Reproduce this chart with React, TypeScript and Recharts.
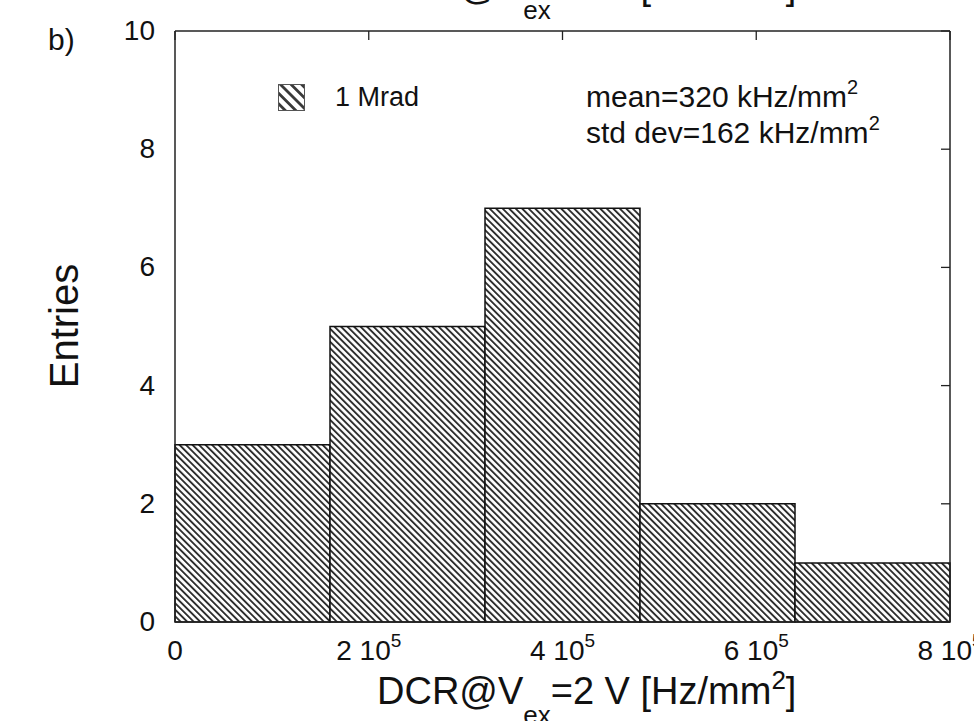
import React from 'react'
import { BarChart, Bar, XAxis, YAxis, Legend } from 'recharts'

// histogram bins (width 1.6e5 Hz/mm2) and counts
const binLabels = ['0-160k', '160k-320k', '320k-480k', '480k-640k', '640k-800k']
const binStarts = [0, 160000, 320000, 480000, 640000]
const entries = [3, 5, 7, 2, 1]

const xTicks = [0, 200000, 400000, 600000, 800000]
const yTicks = [0, 2, 4, 6, 8, 10]
const seriesName = '1 Mrad'
const statLines = ['mean=320 kHz/mm', 'std dev=162 kHz/mm']

const data = binLabels.map((bin, i) => ({ bin, lo: binStarts[i], entries: entries[i] }))

const FONT = '"Liberation Sans", Arial, Helvetica, sans-serif'
const INK = '#111'
const TICK = 9 // inward tick length

// tick mark + label drawn together so the marks can point into the frame
const XTick = (props: any) => {
  const { x, y, payload, tickMargin } = props
  const v = payload.value as number
  const axisY = y - tickMargin
  return (
    <g>
      <line x1={x} y1={axisY} x2={x} y2={axisY - TICK} stroke="#222" strokeWidth={1.3} />
      <text x={x} y={y} dy={20} textAnchor="middle" fontSize={28} fontFamily={FONT} fill={INK}>
        {v === 0 ? '0' : `${v / 1e5} 10`}
        {v !== 0 && <tspan fontSize={19} dy={-13}>5</tspan>}
      </text>
    </g>
  )
}

const TopTick = (props: any) => {
  const { x, y } = props
  return <line x1={x} y1={y} x2={x} y2={y + TICK} stroke="#222" strokeWidth={1.3} />
}

const YTick = (props: any) => {
  const { x, y, payload, tickMargin } = props
  const axisX = x + tickMargin
  return (
    <g>
      <line x1={axisX} y1={y} x2={axisX + TICK} y2={y} stroke="#222" strokeWidth={1.3} />
      <text x={x} y={y} dy={9} textAnchor="end" fontSize={28} fontFamily={FONT} fill={INK}>
        {payload.value}
      </text>
    </g>
  )
}

const RightTick = (props: any) => {
  const { x, y } = props
  return <line x1={x - TICK} y1={y} x2={x} y2={y} stroke="#222" strokeWidth={1.3} />
}

const LegendBox = (props: any) => {
  const item = props.payload && props.payload[0]
  return (
    <div style={{ display: 'flex', alignItems: 'center', fontFamily: FONT, fontSize: 27, color: INK }}>
      <svg width={27} height={27} style={{ display: 'block' }}>
        <defs>
          <pattern id="hatchLegend" patternUnits="userSpaceOnUse" width={7.5} height={7.5} patternTransform="rotate(-45)">
            <rect width={7.5} height={7.5} fill="#fff" />
            <rect width={2.8} height={7.5} fill="#3a3a3a" />
          </pattern>
        </defs>
        <rect x={0.5} y={0.5} width={26} height={26} fill="url(#hatchLegend)" stroke="#555" strokeWidth={1} />
      </svg>
      <span style={{ marginLeft: 30 }}>{item ? item.value : seriesName}</span>
    </div>
  )
}

const AxisTitle = ({ x, y }: { x: number; y: number }) => (
  <text x={x} y={y} fontSize={38} fontFamily={FONT} fill={INK}>
    DCR@V
    <tspan fontSize={26} dy={20}>ex</tspan>
    <tspan fontSize={38} dy={-20}>=2 V [Hz/mm</tspan>
    <tspan fontSize={26} dy={-15}>2</tspan>
    <tspan fontSize={38} dy={15}>]</tspan>
  </text>
)

const frameLine = { stroke: '#222', strokeWidth: 1.5 }

export default function App() {
  return (
    <div style={{ position: 'absolute', left: 0, top: 0, width: 974, height: 721, background: '#fff' }}>
      <BarChart
        width={974}
        height={721}
        data={data}
        margin={{ top: 0, right: 0, bottom: 0, left: 0 }}
        barCategoryGap={0}
        barGap={0}
      >
        <defs>
          <pattern id="hatch" patternUnits="userSpaceOnUse" width={4.6} height={4.6} patternTransform="rotate(-45)">
            <rect width={4.6} height={4.6} fill="#fff" />
            <rect width={1.9} height={4.6} fill="#2e2e2e" />
          </pattern>
        </defs>

        <XAxis
          xAxisId="num"
          dataKey="lo"
          type="number"
          domain={[0, 800000]}
          ticks={xTicks}
          interval={0}
          allowDataOverflow
          height={99}
          tickSize={0}
          tickMargin={18}
          tickLine={false}
          tick={<XTick />}
          axisLine={frameLine}
        />
        <XAxis dataKey="bin" type="category" hide height={0} />
        <XAxis
          xAxisId="top"
          dataKey="lo"
          orientation="top"
          type="number"
          domain={[0, 800000]}
          ticks={xTicks}
          interval={0}
          allowDataOverflow
          height={31}
          tickSize={0}
          tickMargin={0}
          tickLine={false}
          tick={<TopTick />}
          axisLine={frameLine}
        />
        <YAxis
          type="number"
          domain={[0, 10]}
          ticks={yTicks}
          interval={0}
          width={175}
          tickSize={0}
          tickMargin={20}
          tickLine={false}
          tick={<YTick />}
          axisLine={frameLine}
        />
        <YAxis
          yAxisId="r"
          orientation="right"
          type="number"
          domain={[0, 10]}
          ticks={yTicks}
          interval={0}
          allowDataOverflow
          width={24}
          tickSize={0}
          tickMargin={0}
          tickLine={false}
          tick={<RightTick />}
          axisLine={frameLine}
        />

        <Bar
          dataKey="entries"
          name={seriesName}
          fill="url(#hatch)"
          stroke="#111"
          strokeWidth={1.5}
          isAnimationActive={false}
        />

        <Legend
          layout="horizontal"
          verticalAlign="middle"
          align="center"
          content={<LegendBox />}
          wrapperStyle={{ left: 278, top: 82, width: 220, height: 28 }}
        />

        <text x={48} y={50} fontSize={30} fontFamily={FONT} fill={INK}>b)</text>
        <text
          x={78}
          y={326}
          transform="rotate(-90, 78, 326)"
          textAnchor="middle"
          fontSize={40}
          fontFamily={FONT}
          fill={INK}
        >
          Entries
        </text>
        {statLines.map((line, i) => (
          <text key={line} x={586} y={107 + i * 36} fontSize={30} fontFamily={FONT} fill={INK}>
            {line}
            <tspan fontSize={20} dy={-13}>2</tspan>
          </text>
        ))}
        <AxisTitle x={377} y={-1} />
        <AxisTitle x={377} y={704} />
      </BarChart>
    </div>
  )
}
